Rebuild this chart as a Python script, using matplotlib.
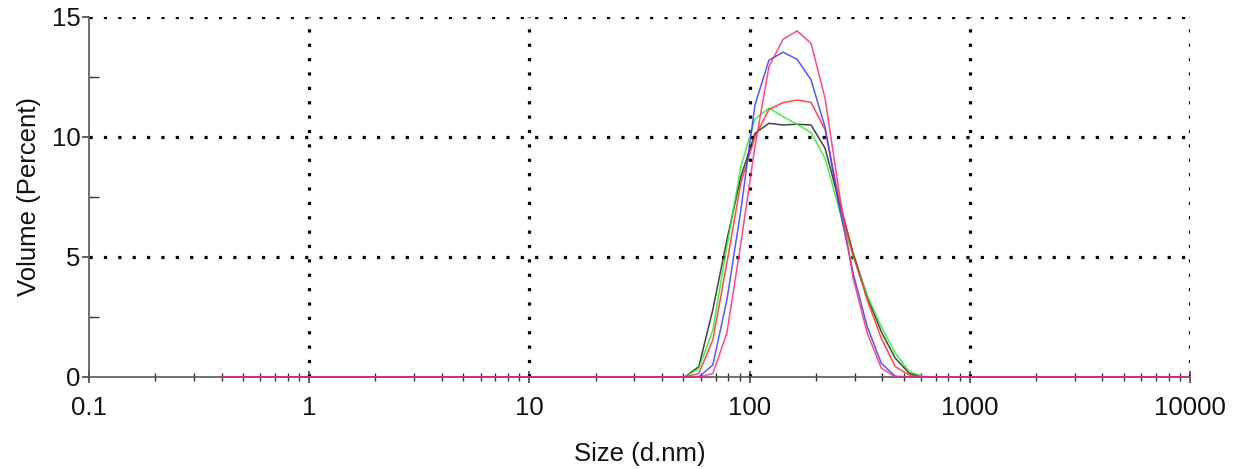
import matplotlib
matplotlib.use("Agg")
import matplotlib.pyplot as plt
from matplotlib.ticker import FixedLocator, LogLocator, NullFormatter, FixedFormatter

plt.rcParams['font.family'] = ['Liberation Sans', 'DejaVu Sans']

# Zetasizer size bins (d.nm)
sizes = [0.4, 0.4632, 0.5365, 0.6213, 0.7195, 0.8332, 0.9649, 1.117, 1.294, 1.499,
         1.736, 2.01, 2.328, 2.696, 3.122, 3.615, 4.187, 4.849, 5.615, 6.503,
         7.531, 8.721, 10.1, 11.7, 13.54, 15.69, 18.17, 21.04, 24.36, 28.21,
         32.67, 37.84, 43.82, 50.75, 58.77, 68.06, 78.82, 91.28, 105.7, 122.4,
         141.8, 164.2, 190.1, 220.2, 255.0, 295.3, 342.0, 396.1, 458.7, 531.2,
         615.1, 712.4, 825.0, 955.4, 1106, 1281, 1484, 1718, 1990, 2305,
         2669, 3091, 3580, 4145, 4801, 5560, 6439, 7456, 8635, 10000]

# volume % for bins 33..50 (50.75 .. 615.1 nm), zero elsewhere
peak_black = [0, 0.43, 2.8, 5.7, 8.35, 10.15, 10.57, 10.5, 10.53, 10.5, 9.53, 7.3, 5.15, 3.35, 1.89, 0.78, 0.15, 0]
peak_green = [0, 0.35, 1.96, 5.43, 8.76, 10.75, 11.2, 10.85, 10.53, 10.18, 9.1, 7.0, 5.0, 3.4, 2.1, 0.99, 0.22, 0.02]
peak_red = [0, 0.14, 1.54, 4.74, 8.1, 10.0, 11.15, 11.43, 11.54, 11.44, 10.3, 7.4, 5.1, 3.2, 1.62, 0.43, 0.08, 0]
peak_blue = [0, 0, 0.5, 3.2, 6.96, 11.33, 13.2, 13.53, 13.24, 12.38, 10.4, 7.1, 4.32, 2.1, 0.57, 0.03, 0, 0]
peak_pink = [0, 0, 0.14, 1.83, 5.57, 9.6, 12.93, 14.07, 14.42, 13.9, 11.6, 7.7, 4.1, 1.83, 0.37, 0, 0, 0]

series = [
    (peak_black, "#222222"),
    (peak_green, "#22ee22"),
    (peak_red, "#ff2a2a"),
    (peak_blue, "#3a3aff"),
    (peak_pink, "#ff2a70"),
]

x_ticks = [0.1, 1, 10, 100, 1000, 10000]
x_labels = ["0.1", "1", "10", "100", "1000", "10000"]
y_ticks = [0, 5, 10, 15]

fig = plt.figure(figsize=(12.39, 4.69), dpi=100)
ax = fig.add_axes([0.0718, 0.1962, 0.9605 - 0.0718, 0.9638 - 0.1962])

for peak, col in series:
    vals = [0] * 33 + peak + [0] * 19
    ax.plot(sizes, vals, color=col, lw=1.1, alpha=0.85, zorder=4, clip_on=False)

ax.set_xscale("log")
ax.set_xlim(0.1, 10000)
ax.set_ylim(0, 15)

ax.xaxis.set_major_locator(FixedLocator(x_ticks))
ax.xaxis.set_major_formatter(FixedFormatter(x_labels))
ax.xaxis.set_minor_locator(LogLocator(base=10, subs=range(2, 10)))
ax.xaxis.set_minor_formatter(NullFormatter())
ax.yaxis.set_major_locator(FixedLocator(y_ticks))
ax.yaxis.set_minor_locator(FixedLocator([2.5, 7.5, 12.5]))

# dotted grid, square dots about 14 px apart
dots = (0, (1, 3.5))
for xv in x_ticks[1:]:
    ax.axvline(xv, color="black", lw=2.3, linestyle=dots, dash_capstyle="butt", zorder=2)
for yv in y_ticks[1:]:
    ax.axhline(yv, color="black", lw=2.3, linestyle=dots, dash_capstyle="butt", zorder=2)

for s in ["top", "right"]:
    ax.spines[s].set_visible(False)
for s in ["left", "bottom"]:
    ax.spines[s].set_color("#555555")
    ax.spines[s].set_linewidth(1.2)

ax.tick_params(axis="x", which="major", direction="inout", length=9, width=1.1,
               color="#333333", labelsize=18.5, labelcolor="#111111", pad=9)
ax.tick_params(axis="x", which="minor", direction="inout", length=6, width=1.0, color="#333333")
ax.tick_params(axis="y", which="major", direction="out", length=5, width=1.1,
               color="#333333", labelsize=18.5, labelcolor="#111111", pad=1)
ax.tick_params(axis="y", which="minor", direction="in", length=7, width=1.0, color="#333333")

ax.set_xlabel("Size (d.nm)", fontsize=18.5, color="#111111", labelpad=16)
ax.set_ylabel("Volume (Percent)", fontsize=18.5, color="#111111", labelpad=8)

fig.savefig("out.png", dpi=100)
